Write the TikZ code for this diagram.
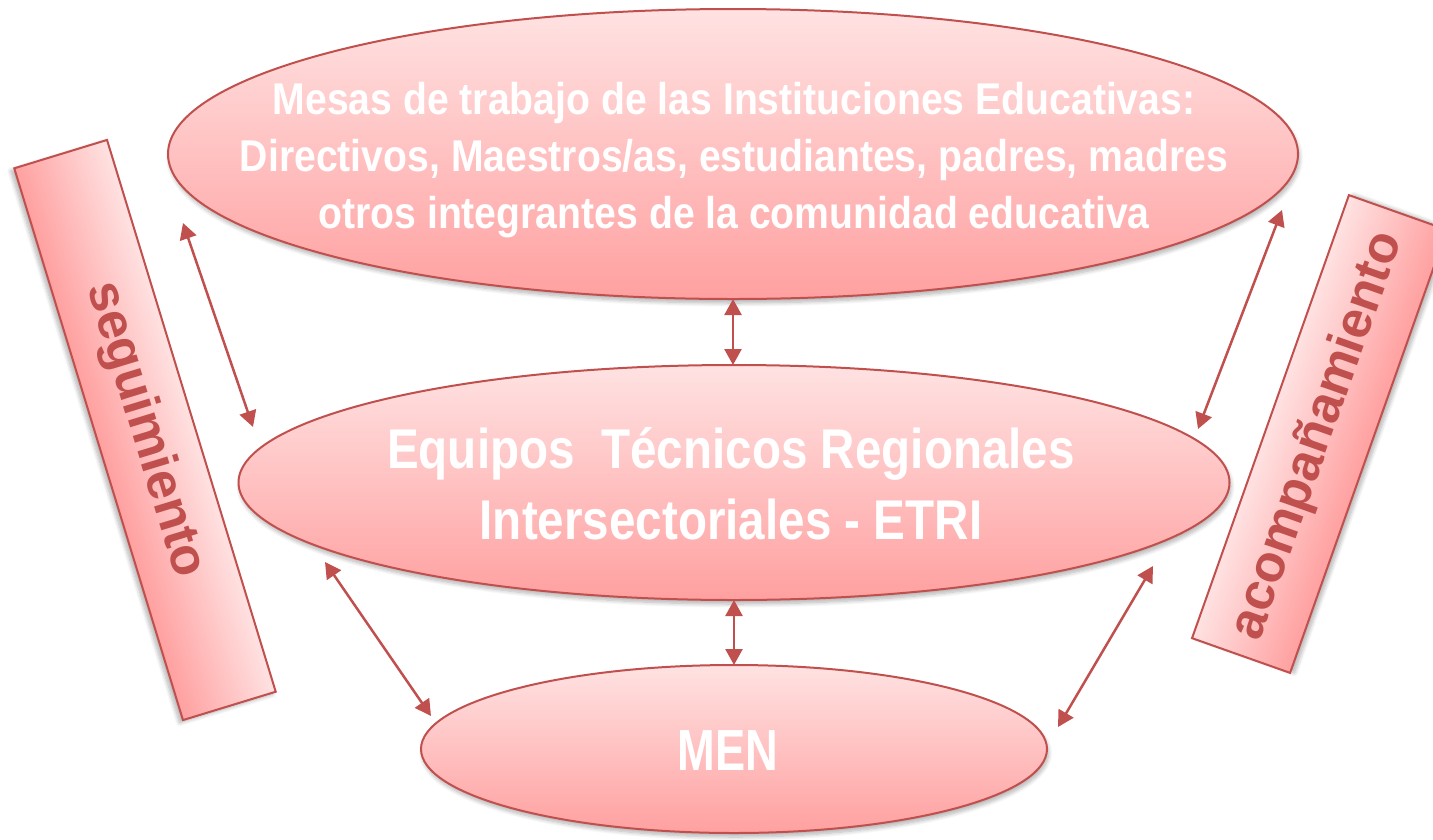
\documentclass[tikz,border=0pt]{standalone}
\usepackage{fontspec}
\setmainfont{Liberation Sans}
\newfontfamily\fta[FakeStretch=0.88]{Liberation Sans}
\newfontfamily\ftb[FakeStretch=0.85]{Liberation Sans}
\newfontfamily\ftc[FakeStretch=0.78]{Liberation Sans}
\usetikzlibrary{shapes.geometric,arrows.meta,shadows.blur}
\definecolor{bord}{HTML}{C0504D}
\definecolor{pinkL}{RGB}{255,226,226}
\definecolor{pinkD}{RGB}{255,160,160}
\tikzset{
  shad/.style={blur shadow={shadow xshift=1.5pt, shadow yshift=-4pt, shadow opacity=30, shadow blur steps=8, shadow blur radius=4pt}},
  ell/.style={ellipse, draw=bord, line width=2pt, top color=pinkL, bottom color=pinkD, inner sep=0pt, outer sep=0pt, shad},
  etext/.style={text=white, align=center, inner sep=0pt},
  side/.style={rectangle, draw=bord, line width=2pt, top color=pinkL, bottom color=pinkD, inner sep=0pt, shad},
  sidetext/.style={text=bord, inner sep=0pt, font=\bfseries\fontsize{52}{60}\selectfont},
  link/.style={draw=bord, line width=2.5pt, {Triangle[length=16pt,width=17pt]}-{Triangle[length=16pt,width=17pt]}},
}
\begin{document}
\begin{tikzpicture}[x=1pt,y=-1pt]
\useasboundingbox (0,0) rectangle (1433,839);
\clip (0,0) rectangle (1433,839);
% side boxes
\begin{scope}[transform canvas={shift={(145,430)},rotate=-73}]
  \node[side, minimum width=577pt, minimum height=97pt] (seg) at (0,0) {};
\end{scope}
\begin{scope}[transform canvas={shift={(1319.5,434)},rotate=70.5}]
  \node[side, minimum width=470pt, minimum height=104pt] (aco) at (0,0) {};
\end{scope}
\node[sidetext, rotate=-73] (segtext) at (145,430) {seguimiento};
\node[sidetext, rotate=70.5] (acotext) at (1318,436) {acompañamiento};
% ellipses
\node[ell, minimum width=1130pt, minimum height=290pt] (top) at (733,154) {};
\node[ell, minimum width=991pt, minimum height=235pt] (mid) at (734,482.5) {};
\node[ell, minimum width=626pt, minimum height=168pt] (men) at (734,749) {};
% texts
\node[etext, font=\fta\bfseries\fontsize{44.5}{57}\selectfont] (toptext) at (734,160)
  {Mesas de trabajo de las Instituciones Educativas:\\Directivos, Maestros/as, estudiantes, padres, madres\\otros integrantes de la comunidad educativa};
\node[etext, font=\ftb\bfseries\fontsize{56}{71}\selectfont] (midtext) at (731,483.5)
  {Equipos~ Técnicos Regionales\\Intersectoriales - ETRI};
\node[etext, font=\ftc\bfseries\fontsize{58}{70}\selectfont] (mentext) at (728,751) {MEN};
% connectors
\coordinate (a1) at (183,223); \coordinate (a2) at (253,427);
\coordinate (b1) at (1282,210); \coordinate (b2) at (1198,429);
\coordinate (c1) at (325,562); \coordinate (c2) at (431,716);
\coordinate (d1) at (1153,566); \coordinate (d2) at (1058,727);
\draw[link] (a1) -- (a2);
\draw[link] (b1) -- (b2);
\draw[link] (c1) -- (c2);
\draw[link] (d1) -- (d2);
\draw[link] (top.south) -- (top.south |- mid.north);
\draw[link] (mid.south) -- (mid.south |- men.north);
\end{tikzpicture}
\end{document}
